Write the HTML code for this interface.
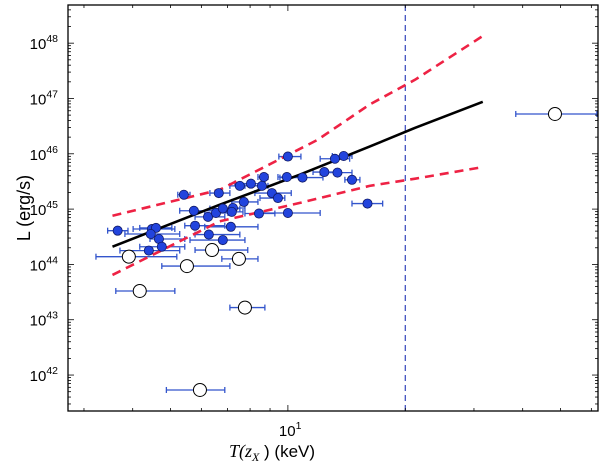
<!DOCTYPE html>
<html><head><meta charset="utf-8"><style>
html,body{margin:0;padding:0;background:#fff;}
svg{display:block;font-family:"Liberation Sans",sans-serif;}
</style></head><body>
<svg id="chart" width="600" height="464" xmlns="http://www.w3.org/2000/svg"></svg>
<script>
// filled points: temperature (keV), error bounds, log10 L
const filledT   = [3.66,5.41,5.74,6.24,6.54,6.65,4.48,4.59,4.45,4.67,4.75,4.40,5.78,6.27,10.0,13.2,13.9,8.68,9.94,10.9,12.4,13.4,14.6,7.53,8.04,8.58,9.10,9.43,7.71,16.0,6.81,7.23,7.18,8.43,10.0,7.14,6.81];
const filledTlo = [3.45,5.22,5.28,5.78,6.12,6.31,4.01,4.17,3.82,4.43,4.17,3.71,5.44,5.78,9.48,12.1,13.0,8.38,9.43,9.54,11.6,12.1,14.0,7.10,7.31,7.76,8.23,8.48,7.18,14.6,6.31,6.77,6.50,7.76,8.38,6.12,5.61];
const filledThi = [3.89,5.61,6.39,6.89,7.02,7.10,5.13,5.04,5.28,5.44,5.44,5.28,6.89,7.53,10.8,14.4,14.6,8.89,10.7,12.3,13.4,14.6,15.3,8.73,8.73,8.89,10.2,9.82,8.38,17.5,7.53,7.76,7.67,9.26,12.1,8.38,7.76];
const filledLogL= [44.61,45.26,44.97,44.86,44.93,45.29,44.64,44.66,44.55,44.46,44.32,44.25,44.70,44.54,45.95,45.91,45.96,45.58,45.58,45.57,45.67,45.66,45.53,45.42,45.46,45.42,45.29,45.20,45.13,45.10,45.01,45.02,44.95,44.92,44.93,44.68,44.44];
// open points
const openT   = [3.91,5.51,6.39,7.49,4.17,7.76,5.95,48.4];
const openTlo = [3.22,4.75,5.78,6.77,3.62,7.10,4.88,38.4];
const openThi = [5.19,7.10,7.89,8.38,5.13,8.73,6.89,62.0];
const openLogL= [44.14,43.97,44.26,44.10,43.52,43.22,41.73,46.72];
// fit line & confidence band
const fitT    = [3.55,6.69,10.7,16.2,21.2,31.6];
const fitLogL = [44.32,45.08,45.62,46.13,46.47,46.94];
const bandUpT = [3.55,6.69,11.9,16.2,21.2,31.6];
const bandUp  = [44.88,45.35,46.25,46.89,47.34,48.13];
const bandLoT = [3.55,6.69,10.7,16.2,21.2,31.6];
const bandLo  = [43.81,44.78,45.11,45.42,45.55,45.76];
const vlineT = 20;
const yTicks = [42,43,44,45,46,47,48];
const xTicks = [10];

const NS="http://www.w3.org/2000/svg";
const svg=document.getElementById('chart');
const L=68,R=598,T=5,B=411;
const xmin=Math.log10(2.73), xmax=Math.log10(62.4), ymin=41.35, ymax=48.69;
const sx=t=>L+(Math.log10(t)-xmin)/(xmax-xmin)*(R-L);
const sy=l=>B-(l-ymin)/(ymax-ymin)*(B-T);
function el(tag,attrs,parent){const e=document.createElementNS(NS,tag);for(const k in attrs)e.setAttribute(k,attrs[k]);(parent||svg).appendChild(e);return e;}

const clip=el('clipPath',{id:'pc'});el('rect',{x:L,y:T,width:R-L,height:B-T},clip);
const plot=el('g',{'clip-path':'url(#pc)'});



const vl=el('line',{x1:sx(vlineT),x2:sx(vlineT),y1:T,y2:B,stroke:'#3344bb','stroke-width':1.2,'stroke-dasharray':'6,4'},plot);



function poly(xs,ys,attrs,name){const p=el('polyline',Object.assign({points:xs.map((x,i)=>sx(x)+','+sy(ys[i])).join(' '),fill:'none'},attrs),plot);}

function errbar(t,lo,hi,l,name){
  const g=el('g',{stroke:'#3355cc','stroke-width':1.3},plot);
  
  
  const y=sy(l);
  el('line',{x1:sx(lo),x2:sx(hi),y1:y,y2:y},g);
  el('line',{x1:sx(lo),x2:sx(lo),y1:y-3,y2:y+3},g);
  el('line',{x1:sx(hi),x2:sx(hi),y1:y-3,y2:y+3},g);
}
filledT.forEach((t,i)=>errbar(t,filledTlo[i],filledThi[i],filledLogL[i],'filled-errorbar'));
openT.forEach((t,i)=>errbar(t,openTlo[i],openThi[i],openLogL[i],'open-errorbar'));

poly(bandUpT,bandUp,{stroke:'#ee2244','stroke-width':2.6,'stroke-dasharray':'9,6'},'upper-confidence-band');
poly(bandLoT,bandLo,{stroke:'#ee2244','stroke-width':2.6,'stroke-dasharray':'9,6'},'lower-confidence-band');
poly(fitT,fitLogL,{stroke:'#000','stroke-width':2.6},'best-fit-line');

filledT.forEach((t,i)=>{const c=el('circle',{cx:sx(t),cy:sy(filledLogL[i]),r:4.6,fill:'#2244dd',stroke:'#111a66','stroke-width':0.8},plot);

});
openT.forEach((t,i)=>{const c=el('circle',{cx:sx(t),cy:sy(openLogL[i]),r:6.5,fill:'#fff',stroke:'#000','stroke-width':1},plot);

});

const fr=el('rect',{x:L,y:T,width:R-L,height:B-T,fill:'none',stroke:'#000','stroke-width':1.3});



const tk=el('g',{stroke:'#000','stroke-width':0.8});


for(let d=41;d<=48;d++){for(let m=1;m<=9;m++){const v=d+Math.log10(m);if(v<ymin||v>ymax)continue;const y=sy(v);const len=m===1?6:3;
 el('line',{x1:L,x2:L+len,y1:y,y2:y},tk);el('line',{x1:R,x2:R-len,y1:y,y2:y},tk);}}
for(let d=0;d<=1;d++){for(let m=1;m<=9;m++){const t=m*Math.pow(10,d);const v=Math.log10(t);if(v<xmin||v>xmax)continue;const x=sx(t);const len=m===1?6:3;
 el('line',{x1:x,x2:x,y1:B,y2:B-len},tk);el('line',{x1:x,x2:x,y1:T,y2:T+len},tk);}}

yTicks.forEach(e=>{const t=el('text',{x:58,y:sy(e)+6,'text-anchor':'end','font-size':15});
 
 
 t.textContent='10';const s=el('tspan',{dy:-7,'font-size':10.5},t);s.textContent=e;});
xTicks.forEach(v=>{const t=el('text',{x:sx(v)-9,y:436,'font-size':15});
 
 
 t.textContent='10';const s=el('tspan',{dy:-7,'font-size':10.5},t);s.textContent=Math.log10(v);});

const yt=el('text',{x:0,y:0,transform:'translate(30,208) rotate(-90)','text-anchor':'middle','font-size':18});


yt.textContent='L (erg/s)';
const xt=el('text',{x:272,y:457,'text-anchor':'middle','font-size':17});


const a=el('tspan',{'font-family':'Liberation Serif, serif','font-style':'italic','font-size':18},xt);a.textContent='T(z';
const b=el('tspan',{'font-family':'Liberation Serif, serif','font-style':'italic','font-size':12,dy:4},xt);b.textContent='X';
const c=el('tspan',{dy:-4},xt);c.textContent=' ) (keV)';
</script>
</body></html>
